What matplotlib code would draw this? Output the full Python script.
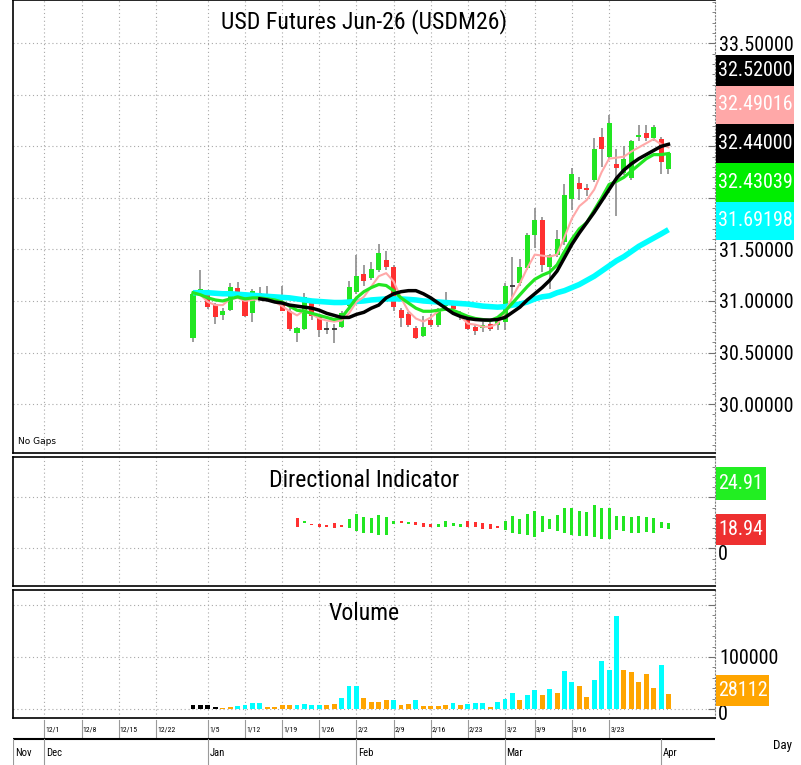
import numpy as np
import matplotlib
matplotlib.use("Agg")
import matplotlib.pyplot as plt
from matplotlib import font_manager as fm
from matplotlib.patches import Rectangle
from matplotlib.ticker import MultipleLocator, FixedLocator, FuncFormatter

# ---------------- data ----------------
opens = [30.64, 31.09, 31.09, 30.97, 30.86, 30.91, 31.13, 31.04, 30.88, 31.08,
         31.03, 31.01, 30.96, 30.90, 30.69, 30.73, 30.98, 30.84, 30.73, 30.73,
         30.75, 30.95, 31.09, 31.26, 31.22, 31.30, 31.40, 31.33, 30.91, 30.87,
         30.74, 30.66, 30.82, 30.77, 30.95, 30.96, 30.86, 30.82, 30.75, 30.74,
         30.78, 30.77, 30.80, 31.15, 31.17, 31.32, 31.64, 31.79, 31.33, 31.45,
         31.57, 31.99, 32.14, 32.10, 32.17, 32.59, 32.40, 32.33, 32.24, 32.19,
         32.59, 32.63, 32.58, 32.57, 32.28]
highs = [31.08, 31.30, 31.11, 30.98, 30.93, 31.17, 31.18, 31.06, 31.12, 31.14,
         31.15, 31.03, 31.15, 30.93, 30.75, 31.08, 31.00, 30.87, 30.80, 30.78,
         30.90, 31.19, 31.45, 31.35, 31.38, 31.55, 31.48, 31.35, 30.93, 30.89,
         30.76, 30.85, 30.87, 30.93, 31.09, 30.98, 30.90, 30.86, 30.77, 30.80,
         30.80, 30.85, 31.17, 31.43, 31.41, 31.66, 31.90, 31.81, 31.46, 31.69,
         32.13, 32.29, 32.20, 32.13, 32.58, 32.68, 32.80, 32.47, 32.50, 32.56,
         32.71, 32.71, 32.71, 32.59, 32.44]
lows = [30.60, 31.07, 30.92, 30.78, 30.82, 30.90, 31.06, 30.84, 30.80, 31.05,
        31.01, 30.98, 30.90, 30.71, 30.60, 30.72, 30.82, 30.65, 30.68, 30.59,
        30.74, 30.93, 31.07, 31.15, 31.20, 31.28, 31.30, 30.90, 30.75, 30.75,
        30.63, 30.65, 30.75, 30.75, 30.93, 30.88, 30.82, 30.72, 30.67, 30.70,
        30.71, 30.72, 30.72, 31.04, 31.15, 31.30, 31.51, 31.28, 31.12, 31.43,
        31.54, 31.88, 31.98, 32.02, 32.15, 32.30, 32.38, 31.82, 32.22, 32.17,
        32.55, 32.55, 32.55, 32.23, 32.23]
closes = [31.07, 31.12, 30.94, 30.84, 30.90, 31.14, 31.07, 30.85, 31.10, 31.06,
          31.04, 31.00, 30.90, 30.73, 30.74, 31.04, 30.85, 30.72, 30.73, 30.73,
          30.88, 31.14, 31.24, 31.19, 31.31, 31.47, 31.33, 30.94, 30.83, 30.77,
          30.64, 30.75, 30.77, 30.91, 30.97, 30.92, 30.88, 30.73, 30.71, 30.77,
          30.73, 30.83, 31.15, 31.15, 31.33, 31.64, 31.79, 31.35, 31.45, 31.60,
          32.03, 32.23, 32.09, 32.08, 32.47, 32.47, 32.73, 32.29, 32.38, 32.55,
          32.61, 32.58, 32.69, 32.35, 32.44]

ma_pink = [31.08, 31.06, 30.99, 30.96, 30.96, 31.02, 31.03, 31.00, 31.01, 31.02,
           31.01, 30.99, 30.95, 30.90, 30.86, 30.91, 30.87, 30.83, 30.81, 30.80,
           30.81, 30.88, 30.99, 31.04, 31.14, 31.24, 31.27, 31.19, 31.03, 30.90,
           30.83, 30.80, 30.84, 30.90, 30.93, 30.90, 30.85, 30.78, 30.77, 30.75,
           30.75, 30.78, 30.89, 31.04, 31.17, 31.32, 31.45, 31.44, 31.43, 31.45,
           31.62, 31.80, 31.92, 31.98, 32.08, 32.25, 32.38, 32.39, 32.40, 32.45,
           32.49, 32.53, 32.57, 32.52, 32.49016]
ma_green = [31.08, 31.06, 31.03, 31.01, 31.00, 31.02, 31.04, 31.02, 31.03, 31.03,
            31.02, 31.01, 30.99, 30.95, 30.91, 30.90, 30.88, 30.86, 30.84, 30.82,
            30.84, 30.93, 31.03, 31.09, 31.13, 31.16, 31.15, 31.10, 31.03, 30.98,
            30.93, 30.90, 30.90, 30.91, 30.92, 30.91, 30.88, 30.85, 30.83, 30.82,
            30.81, 30.84, 30.90, 30.98, 31.06, 31.14, 31.21, 31.25, 31.28, 31.35,
            31.48, 31.60, 31.70, 31.76, 31.88, 32.00, 32.13, 32.16, 32.20, 32.26,
            32.32, 32.38, 32.42, 32.42, 32.43039]
ma_black = [np.nan] * 9 + [
            31.02, 31.01, 30.99, 30.98, 30.96, 30.95, 30.94, 30.93, 30.91, 30.88,
            30.86, 30.84, 30.84, 30.87, 30.89, 30.93, 30.96, 31.03, 31.07, 31.09,
            31.10, 31.10, 31.07, 31.03, 30.98, 30.93, 30.88, 30.85, 30.83, 30.82,
            30.815, 30.815, 30.82, 30.84, 30.89, 30.94, 31.01, 31.07, 31.13, 31.20,
            31.29, 31.42, 31.55, 31.66, 31.76, 31.86, 31.97, 32.08, 32.19, 32.27,
            32.33, 32.38, 32.42, 32.46, 32.50, 32.52]
ma_cyan = [31.08, 31.08, 31.08, 31.075, 31.07, 31.07, 31.065, 31.06, 31.055, 31.05,
           31.045, 31.04, 31.035, 31.03, 31.02, 31.01, 31.00, 30.995, 30.99, 30.985,
           30.985, 30.99, 30.995, 31.00, 31.01, 31.015, 31.02, 31.02, 31.02, 31.015,
           31.01, 31.00, 30.995, 30.99, 30.985, 30.98, 30.975, 30.97, 30.96, 30.95,
           30.945, 30.94, 30.945, 30.96, 30.97, 30.99, 31.02, 31.04, 31.05, 31.08,
           31.10, 31.13, 31.16, 31.20, 31.24, 31.29, 31.34, 31.39, 31.43, 31.48,
           31.53, 31.57, 31.61, 31.65, 31.69198]

volume = [7800, 7800, 7800, 4500, 2600, 4500, 6500, 8500, 11000, 11000,
          4500, 4500, 7800, 7800, 7800, 9100, 7800, 7800, 7800, 9750,
          21500, 44000, 44000, 21500, 13000, 13000, 17500, 17500, 7800, 9750,
          17500, 5850, 5850, 5850, 7800, 11000, 7800, 9100, 11000, 11000,
          4500, 14300, 19500, 31200, 18200, 27300, 35750, 27300, 39000, 31200,
          72800, 51350, 44200, 22750, 55900, 93000, 74750, 178750, 74100, 70850,
          51350, 68250, 41000, 84500, 28112]
volume_kind = list("kkkkoocccc" "oooocccc" "oo" "ccc" "oooo" "c" "oo" "c" "oooo"
                   "c" "o" "ccc" "o" "ccc" "o" "cc" "o" "c" "o" "cc" "oo" "cccc"
                   "ooooo" "c" "o")

di_first = 14
di_plus = [20.8, 27.0, 23.0, 21.4, 20.8, 19.8, 21.4, 28.6, 33.8, 30.6,
           29.6, 32.8, 30.6, 27.0, 24.7, 26.0, 23.0, 21.4, 20.8, 24.0,
           27.0, 25.3, 24.0, 21.4, 20.8, 18.8, 18.8, 19.8, 27.3, 31.9,
           28.9, 33.5, 36.8, 31.9, 28.9, 32.8, 39.4, 39.4, 36.8, 35.8,
           42.6, 39.4, 39.4, 31.9, 31.9, 30.6, 31.9, 30.6, 29.6, 26.3, 24.91]
di_minus = [29.6, 25.3, 24.0, 24.0, 23.0, 24.7, 23.0, 19.8, 17.5, 15.5,
            15.5, 13.2, 13.2, 24.0, 27.0, 24.0, 26.3, 25.3, 24.0, 21.4,
            21.4, 22.1, 21.4, 27.0, 26.0, 24.7, 24.0, 22.4, 18.1, 15.5,
            14.2, 13.2, 11.6, 16.5, 18.8, 17.5, 14.9, 13.2, 12.5, 12.5,
            11.0, 9.3, 9.0, 18.1, 17.2, 15.5, 14.9, 16.5, 15.5, 19.8, 18.94]

week_labels = ["12/1", "12/8", "12/15", "12/22", "1/5", "1/12", "1/19", "1/26",
               "2/2", "2/9", "2/16", "2/23", "3/2", "3/9", "3/16", "3/23"]
week_pos = [-20, -15, -10, -5, 2, 7, 12, 17, 22, 27, 32, 37, 42, 46, 51, 56]
month_labels = ["Nov", "Dec", "Jan", "Feb", "Mar", "Apr"]
month_pos = [-24.2, -20, 2, 22, 42, 63]

price_ticks = [30.0, 30.5, 31.0, 31.5, 32.0, 32.5, 33.0, 33.5]
price_ticks_shown = [30.0, 30.5, 31.0, 31.5, 33.5]

# ---------------- font choice (prefer a condensed face) ----------------
ttf = fm.fontManager.ttflist
names = {f.name for f in ttf}
font_kw = {}
for n in ['Liberation Sans Narrow', 'Arial Narrow', 'Roboto Condensed',
          'Open Sans Condensed', 'Noto Sans Condensed', 'DejaVu Sans Condensed']:
    if n in names:
        font_kw = {'family': n}
        break
if not font_kw:
    for fam in ['Noto Sans', 'Roboto', 'Open Sans', 'DejaVu Sans', 'Lato', 'Inter']:
        cands = [f for f in ttf if f.name == fam and str(f.stretch) in
                 ('condensed', 'semi-condensed', 'extra-condensed', '75', '87', '62')
                 and f.weight in (400, 'normal', 'regular') and f.style == 'normal']
        if cands:
            font_kw = {'family': fam, 'stretch': 'condensed'}
            break
if not font_kw:
    font_kw = {'family': 'Liberation Sans'}
plt.rcParams['font.family'] = [font_kw['family'], 'DejaVu Sans']
if 'stretch' in font_kw:
    plt.rcParams['font.stretch'] = font_kw['stretch']

# ---------------- styling / layout ----------------
W, H = 801, 765
GREEN = '#22e622'
RED = '#ff3030'
CYAN = '#00ffff'
ORANGE = '#ffa500'
PINK = '#ffa8a8'
GRID = dict(color='#a8a8a8', lw=0.8, ls=(0, (1, 2.5)))
XL = (-24.23, 70.26)

fig = plt.figure(figsize=(W / 100, H / 100), dpi=100)
renderer = fig.canvas.get_renderer()


def size_for(s, target_px):
    t = fig.text(0, 0, s, fontsize=20)
    w = t.get_window_extent(renderer).width
    t.remove()
    return 20 * target_px / w


LBL = size_for("32.52000", 75)
TITLE = size_for("USD Futures Jun-26 (USDM26)", 285)
WEEK = size_for("12/15", 18)
MONTH = size_for("Dec", 16)


def rect(x0, y0, x1, y1):
    return [x0 / W, 1 - y1 / H, (x1 - x0) / W, (y1 - y0) / H]


def style_panel(ax):
    ax.set_xlim(*XL)
    for s in ('left', 'top', 'bottom'):
        ax.spines[s].set_color('black')
        ax.spines[s].set_linewidth(1.2)
    ax.spines['right'].set_color('#808080')
    ax.spines['right'].set_linestyle((0, (1, 2)))
    ax.set_xticks([])
    for p in week_pos:
        ax.axvline(p, zorder=0, **GRID)
    ax.yaxis.tick_right()
    ax.tick_params(axis='y', which='major', direction='in', length=5, color='#707070',
                   pad=3, labelsize=LBL)
    ax.tick_params(axis='y', which='minor', direction='in', length=2.5, color='#707070')


x = np.arange(len(closes))

# ---- price panel ----
ax = fig.add_axes(rect(13, 0, 715, 453))
style_panel(ax)
ax.set_ylim(29.525, 33.92)
ax.yaxis.set_major_locator(FixedLocator(price_ticks))
ax.yaxis.set_minor_locator(MultipleLocator(0.1))
ax.yaxis.set_major_formatter(FuncFormatter(
    lambda v, p: f"{v:.5f}" if any(abs(v - t) < 1e-6 for t in price_ticks_shown) else ""))
for t in price_ticks:
    ax.axhline(t, zorder=0, **GRID)

o = np.array(opens); c = np.array(closes)
hi = np.array(highs); lo = np.array(lows)
ax.vlines(x, lo, hi, color='#8c8c8c', lw=1.2, zorder=2)
up = c > o
dn = c < o
eq = c == o
ax.bar(x[up], (c - o)[up], bottom=o[up], width=0.68, color=GREEN, zorder=3)
ax.bar(x[dn], (o - c)[dn], bottom=c[dn], width=0.68, color=RED, zorder=3)
ax.hlines(c[eq], x[eq] - 0.32, x[eq] + 0.32, color='#333333', lw=1.3, zorder=3)

ax.plot(x, ma_cyan, color=CYAN, lw=4, zorder=4, solid_capstyle='butt')
ax.plot(x, ma_pink, color=PINK, lw=1.5, zorder=5)
ax.plot(x, ma_green, color=GREEN, lw=2.3, zorder=6)
ax.plot(x, ma_black, color='black', lw=2.5, zorder=7)

ax.text(0.5, 1 - 22 / 453, "USD Futures Jun-26 (USDM26)", transform=ax.transAxes,
        ha='center', va='center', fontsize=TITLE)
ax.text(5 / 702, 11 / 453, "No Gaps", transform=ax.transAxes, fontsize=6.5,
        family='DejaVu Sans', ha='left', va='center')

# ---- directional indicator panel ----
axd = fig.add_axes(rect(13, 457, 715, 586))
style_panel(axd)
axd.set_ylim(-36.8, 89.7)
axd.yaxis.set_major_locator(FixedLocator([0, 50]))
axd.yaxis.set_minor_locator(MultipleLocator(10))
axd.yaxis.set_major_formatter(FuncFormatter(lambda v, p: ""))
for t in (0, 50):
    axd.axhline(t, zorder=0, **GRID)
dp = np.array(di_plus); dm = np.array(di_minus)
xd = np.arange(di_first, di_first + len(dp))
col = [GREEN if a >= b else RED for a, b in zip(dp, dm)]
axd.bar(xd, np.abs(dp - dm), bottom=np.minimum(dp, dm), width=0.4, color=col, zorder=3)
axd.text(0.5, (586 - 480) / 129, "Directional Indicator", transform=axd.transAxes,
         ha='center', va='center', fontsize=TITLE)

# ---- volume panel ----
axv = fig.add_axes(rect(13, 590, 715, 718))
style_panel(axv)
axv.set_ylim(-17300, 228800)
axv.yaxis.set_major_locator(FixedLocator([0, 100000, 200000]))
axv.yaxis.set_minor_locator(MultipleLocator(20000))
axv.yaxis.set_major_formatter(FuncFormatter(lambda v, p: "100000" if v == 100000 else ""))
for t in (0, 100000, 200000):
    axv.axhline(t, zorder=0, **GRID)
vcol = {'k': 'black', 'o': ORANGE, 'c': CYAN}
axv.bar(x, volume, width=0.66, color=[vcol[k] for k in volume_kind], zorder=3)
axv.text(0.5, (718 - 613) / 128, "Volume", transform=axv.transAxes, ha='center',
         va='center', fontsize=TITLE)

# ---- date axis area ----
axx = fig.add_axes(rect(13, 718, 715, 765))
axx.set_xlim(*XL)
axx.set_ylim(765, 718)
axx.axis('off')
for p, s in zip(week_pos, week_labels):
    axx.plot([p, p], [720, 738], color='#9a9a9a', lw=0.8)
    axx.text(p + 0.15, 729.5, s, fontsize=WEEK, ha='left', va='center')
axx.plot(XL, [738.5, 738.5], color='black', lw=1.5)
for p, s in zip(month_pos, month_labels):
    axx.plot([p, p], [739, 765], color='#9a9a9a', lw=0.8)
    axx.text(p + 0.2, 753, s, fontsize=MONTH, ha='left', va='center')
fig.text(782 / W, 1 - 746 / H, "Day", fontsize=size_for("Day", 19), ha='center',
         va='center')


# ---- right-side value boxes ----
def value_box(x0, y0, x1, y1, s, fc, tc='white'):
    fig.add_artist(Rectangle((x0 / W, 1 - y1 / H), (x1 - x0) / W, (y1 - y0) / H,
                             transform=fig.transFigure, facecolor=fc, edgecolor='none',
                             zorder=5))
    fig.text((x0 + 2) / W, 1 - (y0 + y1) / 2 / H, s, color=tc, fontsize=LBL,
             ha='left', va='center', zorder=6)


value_box(716, 55, 794, 86, f"{max(ma_black[-2:]):.5f}", 'black')
value_box(716, 86, 794, 124, f"{ma_pink[-1]:.5f}", PINK)
value_box(716, 124, 794, 163, f"{closes[-1]:.5f}", 'black')
value_box(716, 163, 794, 202, f"{ma_green[-1]:.5f}", '#00ee00')
value_box(716, 202, 794, 240, f"{ma_cyan[-1]:.5f}", CYAN)
value_box(716, 467, 766, 500, f"{di_plus[-1]:.2f}", '#22ee22')
value_box(716, 514, 766, 545, f"{di_minus[-1]:.2f}", '#ee3030')
value_box(716, 675, 769, 706, f"{volume[-1]}", ORANGE)

# zero labels of the two lower panels, sitting just under their value boxes
fig.text(718 / W, 1 - 555 / H, "0", fontsize=LBL, ha='left', va='center', zorder=4)
fig.text(718 / W, 1 - 715 / H, "0", fontsize=LBL, ha='left', va='center', zorder=4)

fig.savefig("out.png", dpi=100)
